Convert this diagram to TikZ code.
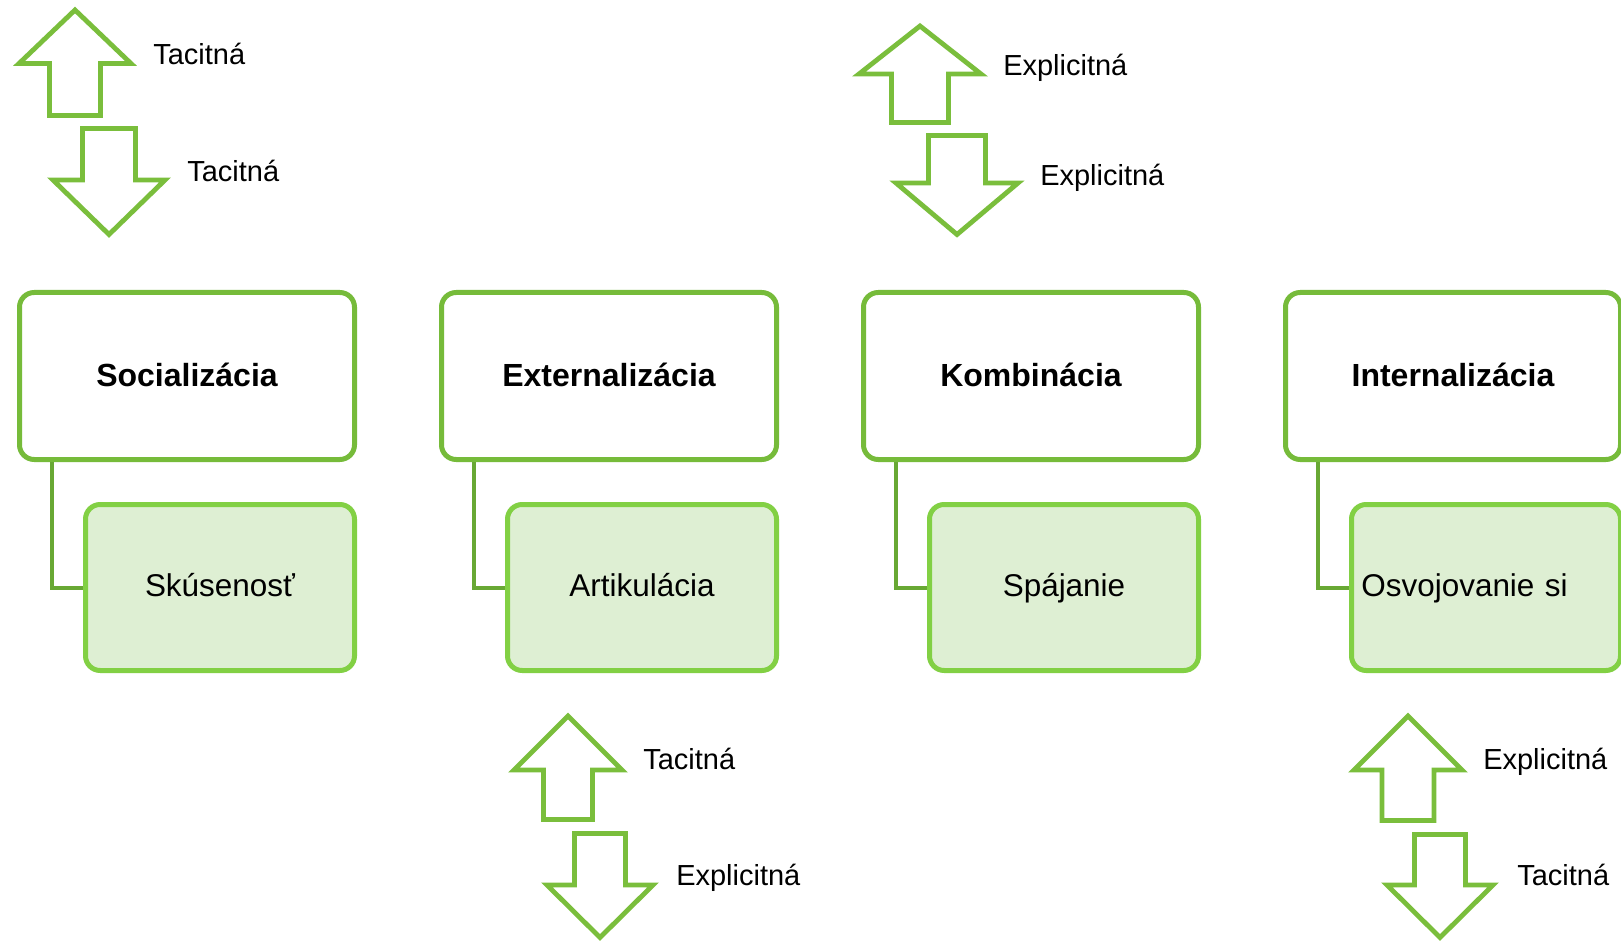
\documentclass[tikz,border=0pt]{standalone}
\usepackage{fontspec}
\setmainfont{Liberation Sans}
\usetikzlibrary{calc}

\definecolor{arrowgreen}{RGB}{122,190,60}
\definecolor{stagegreen}{RGB}{118,187,58}
\definecolor{detailgreen}{RGB}{130,208,68}
\definecolor{detailfill}{RGB}{222,239,211}
\definecolor{linkgreen}{RGB}{104,168,52}

% hollow block arrows: #1 centre x, #2 tip y, #3 head base y, #4 tail y,
% #5 half width of head, #6 half width of shaft
\newcommand{\kwBlockArrow}[6]{%
  \draw[flowarrow] (#1,#2) -- (#1+#5,#3) -- (#1+#6,#3) -- (#1+#6,#4)
    -- (#1-#6,#4) -- (#1-#6,#3) -- (#1-#5,#3) -- cycle;}

\begin{document}
\begin{tikzpicture}[x=0.75pt,y=-0.75pt,
  stage/.style={draw=stagegreen, line width=3.75pt, rounded corners=11pt,
    fill=white, minimum width=251.25pt, minimum height=125.25pt, inner sep=0pt,
    text height=20pt, text depth=5pt,
    font=\bfseries\fontsize{24}{28}\selectfont},
  detail/.style={draw=detailgreen, line width=3.75pt, rounded corners=11pt,
    fill=detailfill, minimum width=201.75pt, minimum height=124.5pt,
    inner xsep=7pt, inner ysep=0pt, text width=187pt, align=center,
    text height=19pt, text depth=5pt,
    font=\fontsize{23.6}{28}\selectfont},
  link/.style={draw=linkgreen, line width=3pt},
  flowarrow/.style={draw=arrowgreen, line width=3.6pt, fill=white, line join=miter},
  flowlabel/.style={anchor=base west, inner sep=0pt,
    font=\fontsize{21.75}{26}\selectfont}]

\useasboundingbox (0,0) rectangle (1621,941);
\fill[white] (0,0) rectangle (1621,941);

% the four stages of knowledge conversion
\node[stage] (s1) at (187,376) {Socializácia};
\node[stage] (s2) at (609,376) {Externalizácia};
\node[stage] (s3) at (1031,376) {Kombinácia};
\node[stage] (s4) at (1453,376) {Internalizácia};

\node[detail] (d1) at (220,587.5) {Skúsenosť};
\node[detail] (d2) at (642,587.5) {Artikulácia};
\node[detail] (d3) at (1064,587.5) {Spájanie};
\node[detail, align=left] (d4) at (1486,587.5) {Osvojovanie si};

\foreach \i in {1,...,4}
  \draw[link] ($(s\i.south west)+(35,0)$) |- (d\i.west);

% direction of conversion: Socializácia
\kwBlockArrow{75}{10}{63.5}{115.5}{56}{25.5}
\kwBlockArrow{109}{234.5}{180}{128.5}{56}{26.5}
\node[flowlabel] (t1a) at (153,65) {Tacitná};
\node[flowlabel] (t1b) at (187,182) {Tacitná};

% Kombinácia
\kwBlockArrow{920}{26}{74}{122.5}{61}{28.5}
\kwBlockArrow{957}{234.5}{183}{135.5}{61}{28.5}
\node[flowlabel] (t3a) at (1003,76) {Explicitná};
\node[flowlabel] (t3b) at (1040,186) {Explicitná};

% Externalizácia
\kwBlockArrow{568}{716}{770}{819.5}{54}{24.5}
\kwBlockArrow{600}{937.5}{885}{833.5}{53}{25.5}
\node[flowlabel] (t2a) at (643,769) {Tacitná};
\node[flowlabel] (t2b) at (676,885) {Explicitná};

% Internalizácia
\kwBlockArrow{1408}{716}{770}{820.5}{54}{26}
\kwBlockArrow{1440}{937.5}{885}{834.5}{53}{25.5}
\node[flowlabel] (t4a) at (1483,769) {Explicitná};
\node[flowlabel] (t4b) at (1517,885) {Tacitná};

\end{tikzpicture}
\end{document}
